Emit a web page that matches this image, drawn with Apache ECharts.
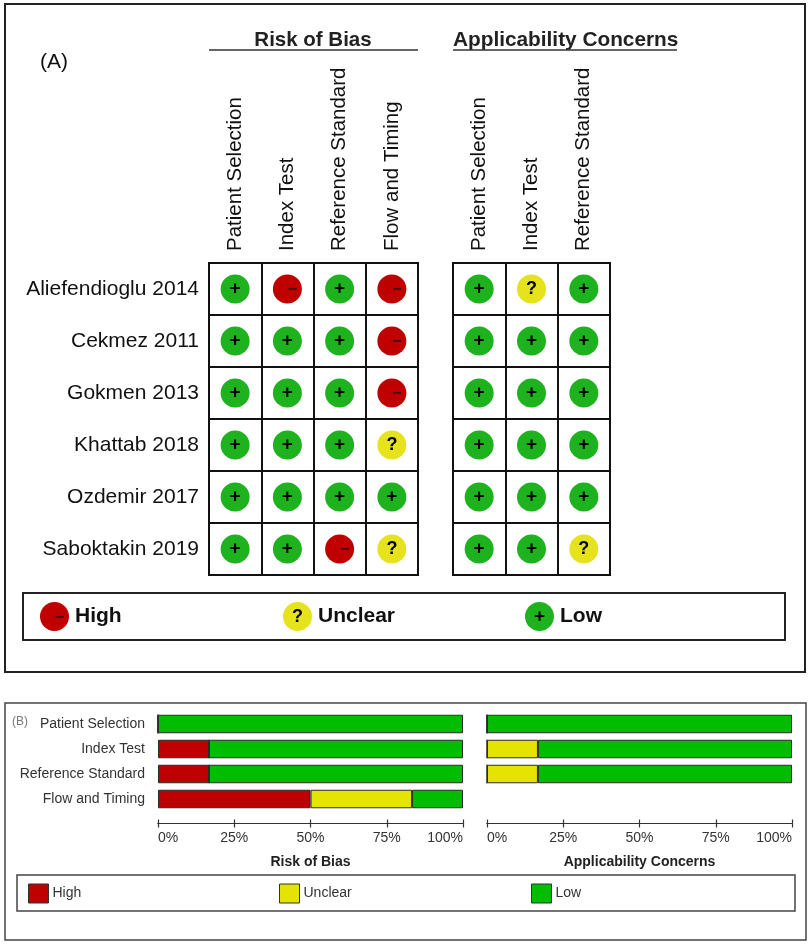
<!DOCTYPE html>
<html>
<head>
<meta charset="utf-8">
<script src="https://cdn.jsdelivr.net/npm/echarts@6/dist/echarts.min.js"></script>
<style>html,body{margin:0;padding:0;background:#fff}#c{width:809px;height:946px}</style>
</head>
<body>
<div id="c"></div>
<script>
const studies = ['Aliefendioglu 2014','Cekmez 2011','Gokmen 2013','Khattab 2018','Ozdemir 2017','Saboktakin 2019'];
const robDomains = ['Patient Selection','Index Test','Reference Standard','Flow and Timing'];
const acDomains = ['Patient Selection','Index Test','Reference Standard'];
// H = high, U = unclear, L = low
const robJudgements = [
  ['L','H','L','H'],
  ['L','L','L','H'],
  ['L','L','L','H'],
  ['L','L','L','U'],
  ['L','L','L','L'],
  ['L','L','H','U']
];
const acJudgements = [
  ['L','U','L'],
  ['L','L','L'],
  ['L','L','L'],
  ['L','L','L'],
  ['L','L','L'],
  ['L','L','U']
];
const summaryDomains = ['Patient Selection','Index Test','Reference Standard','Flow and Timing'];
const robHigh    = [0, 16.7, 16.7, 50];
const robUnclear = [0, 0, 0, 33.3];
const robLow     = [100, 83.3, 83.3, 16.7];
const acHigh     = [0, 0, 0, null];
const acUnclear  = [0, 16.7, 16.7, null];
const acLow      = [100, 83.3, 83.3, null];
const pctTicks = [0, 25, 50, 75, 100];

const FONT = '"Liberation Sans", Arial, sans-serif';
const levels = [
  {key:'H', name:'High', circle:'#c00000', bar:'#bf0000', mark:'\u2212', markColor:'#4a0000', offset:[5,1], size:16},
  {key:'U', name:'Unclear', circle:'#e6e31c', bar:'#e5e300', mark:'?', markColor:'#000', offset:[0,0.5], size:18},
  {key:'L', name:'Low', circle:'#1fb21f', bar:'#00bd00', mark:'+', markColor:'#000', offset:[0,0], size:19}
];

function points(judg, key){
  const out = [];
  judg.forEach((row, r) => row.forEach((v, c) => { if (v === key) out.push([c, r]); }));
  return out;
}

const series = [];
levels.forEach(lv => {
  [[robJudgements,0],[acJudgements,1]].forEach(([j, gi]) => {
    series.push({
      type:'scatter', name:lv.name, xAxisIndex:gi, yAxisIndex:gi,
      data:points(j, lv.key), symbol:'circle', symbolSize:29,
      itemStyle:{color:lv.circle, opacity:1},
      label:{show:true, position:'inside', formatter:lv.mark, color:lv.markColor,
             fontSize:lv.size, fontWeight:'bold', fontFamily:FONT, offset:lv.offset},
      emphasis:{disabled:true}, z:3
    });
  });
});
const robVals = {H:robHigh, U:robUnclear, L:robLow};
const acVals = {H:acHigh, U:acUnclear, L:acLow};
levels.forEach(lv => {
  [[robVals,2,'rob'],[acVals,3,'ac']].forEach(([vals, gi, st]) => {
    series.push({
      type:'bar', name:lv.name, xAxisIndex:gi, yAxisIndex:gi, stack:st,
      data:vals[lv.key], barWidth:18.5,
      itemStyle:{color:lv.bar, borderColor:'#2b2b2b', borderWidth:1},
      emphasis:{disabled:true}
    });
  });
});

const catAxisA = (data, showLabel, extra) => Object.assign({
  type:'category', data:data,
  axisLine:{show:true, lineStyle:{color:'#111', width:2}},
  axisTick:{show:false},
  splitLine:{show:true, interval:0, lineStyle:{color:'#111', width:2}},
  axisLabel:{show:showLabel, interval:0, color:'#111', fontSize:20, fontFamily:FONT}
}, extra);

const valAxisB = (gi, inside) => ({
  type:'value', gridIndex:gi, min:0, max:100, interval:25, position:'bottom', offset:12,
  axisLine:{show:true, lineStyle:{color:'#333', width:1.2}},
  axisTick:{show:true, inside:inside, length:4, lineStyle:{color:'#333', width:1.2}},
  splitLine:{show:false},
  axisLabel: inside ? {show:false} : {show:true, formatter:'{value}%', color:'#333', fontSize:14,
    fontFamily:FONT, margin:8, alignMinLabel:'left', alignMaxLabel:'right'},
  name: inside ? '' : (gi === 2 ? 'Risk of Bias' : 'Applicability Concerns'),
  nameLocation:'middle', nameGap:32,
  nameTextStyle:{fontSize:14, fontWeight:'bold', color:'#222', fontFamily:FONT}
});

const legendA = (lv, left) => ({
  left:left, top:602, padding:0, orient:'horizontal', icon:'circle', itemWidth:29, itemHeight:29, itemGap:0,
  selectedMode:false,
  data:[{name:lv.name, icon:'circle', itemStyle:{color:lv.circle, borderWidth:0}}],
  textStyle:{fontSize:21, fontWeight:'bold', color:'#111', fontFamily:FONT, padding:[4,0,0,1]}
});
const legendB = (lv, left) => ({
  left:left, top:883.5, padding:0, orient:'horizontal', itemWidth:20, itemHeight:19, itemGap:0,
  selectedMode:false,
  data:[{name:lv.name, icon:'rect', itemStyle:{color:lv.bar, borderColor:'#333', borderWidth:1}}],
  textStyle:{fontSize:14, color:'#333', fontFamily:FONT, padding:[0,0,0,-1]}
});

const topLabel = {show:true, interval:0, rotate:-90, margin:12, color:'#111', fontSize:20.5, fontFamily:FONT};

const option = {
  animation:false,
  backgroundColor:'#fff',
  textStyle:{fontFamily:FONT},
  grid:[
    {left:209, top:263, width:209, height:312, show:true, borderColor:'#111', borderWidth:2, containLabel:false},
    {left:453, top:263, width:157, height:312, show:true, borderColor:'#111', borderWidth:2, containLabel:false},
    {left:158, top:711.5, width:305, height:100, containLabel:false},
    {left:487, top:711.5, width:305, height:100, containLabel:false}
  ],
  xAxis:[
    catAxisA(robDomains, true, {gridIndex:0, position:'top', axisLabel:topLabel}),
    catAxisA(acDomains, true, {gridIndex:1, position:'top', axisLabel:topLabel}),
    valAxisB(2, false),
    valAxisB(3, false),
    valAxisB(2, true),
    valAxisB(3, true)
  ],
  yAxis:[
    catAxisA(studies, true, {gridIndex:0, inverse:true, axisLabel:{show:true, interval:0, margin:10, color:'#111', fontSize:21, fontFamily:FONT}}),
    catAxisA(studies, false, {gridIndex:1, inverse:true}),
    {type:'category', gridIndex:2, data:summaryDomains, inverse:true,
     axisLine:{show:false}, axisTick:{show:false}, splitLine:{show:false},
     axisLabel:{show:true, interval:0, margin:13, color:'#333', fontSize:14, fontFamily:FONT}},
    {type:'category', gridIndex:3, data:summaryDomains, inverse:true,
     axisLine:{show:false}, axisTick:{show:false}, splitLine:{show:false}, axisLabel:{show:false}}
  ],
  legend:[
    legendA(levels[0], 40), legendA(levels[1], 283), legendA(levels[2], 525),
    legendB(levels[0], 28), legendB(levels[1], 279), legendB(levels[2], 531)
  ],
  series:series,
  graphic:[
    {type:'rect', shape:{x:5, y:4, width:800, height:668}, style:{fill:'none', stroke:'#222', lineWidth:2}, silent:true},
    {type:'rect', shape:{x:23, y:593, width:762, height:47}, style:{fill:'none', stroke:'#222', lineWidth:2}, silent:true, z:-1},
    {type:'text', left:40, top:52, style:{text:'(A)', fontSize:21, fill:'#111', fontFamily:FONT}},
    {type:'text', x:313, y:40, style:{text:'Risk of Bias', fontSize:20.5, fontWeight:'bold', fill:'#222', fontFamily:FONT, align:'center', verticalAlign:'middle'}},
    {type:'line', shape:{x1:209, y1:50, x2:418, y2:50}, style:{stroke:'#333', lineWidth:1.5}},
    {type:'text', x:453, y:40, style:{text:'Applicability Concerns', fontSize:20.8, fontWeight:'bold', fill:'#222', fontFamily:FONT, align:'left', verticalAlign:'middle'}},
    {type:'line', shape:{x1:453, y1:50, x2:677, y2:50}, style:{stroke:'#333', lineWidth:1.5}},
    {type:'text', x:59.5, y:617.5, z:100, style:{text:'\u2212', fontSize:16, fontWeight:'bold', fill:'#4a0000', fontFamily:FONT, align:'center', verticalAlign:'middle'}},
    {type:'text', x:297.5, y:617, z:100, style:{text:'?', fontSize:18, fontWeight:'bold', fill:'#000', fontFamily:FONT, align:'center', verticalAlign:'middle'}},
    {type:'text', x:539.5, y:616.5, z:100, style:{text:'+', fontSize:19, fontWeight:'bold', fill:'#000', fontFamily:FONT, align:'center', verticalAlign:'middle'}},
    {type:'rect', shape:{x:5, y:703, width:801, height:237}, style:{fill:'none', stroke:'#444', lineWidth:1.5}, silent:true},
    {type:'rect', shape:{x:17, y:875, width:778, height:36}, style:{fill:'none', stroke:'#444', lineWidth:1.5}, silent:true},
    {type:'text', x:12, y:722, style:{text:'(B)', fontSize:12, fill:'#777', fontFamily:FONT, align:'left', verticalAlign:'middle'}}
  ]
};
const chart = echarts.init(document.getElementById('c'), null, {renderer:'canvas'});
chart.setOption(option);
</script>
</body>
</html>
